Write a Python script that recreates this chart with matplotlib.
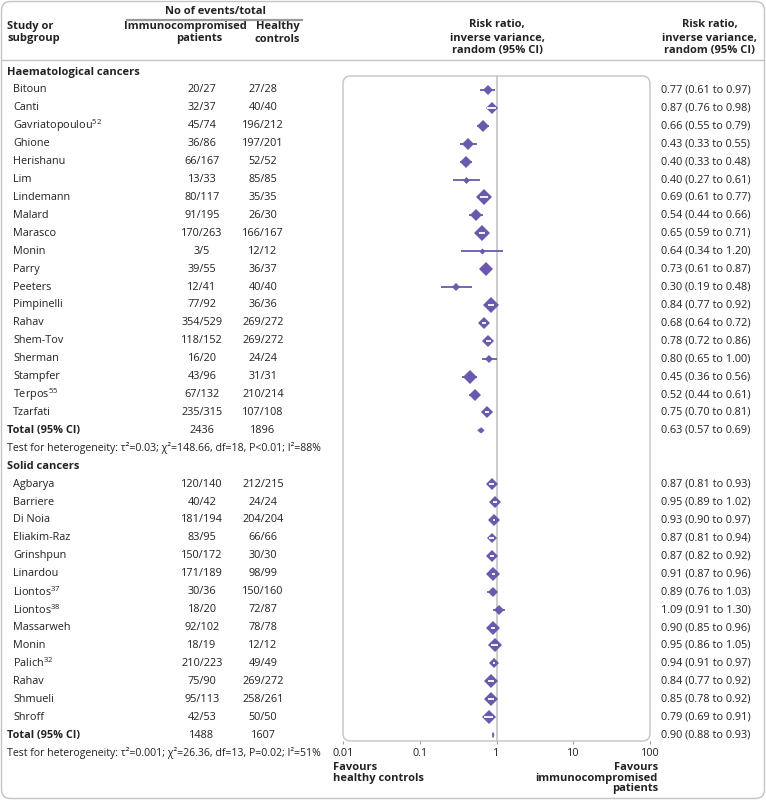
import numpy as np
import matplotlib.pyplot as plt
import matplotlib.transforms as mtransforms
from matplotlib.patches import FancyBboxPatch, Polygon
from matplotlib.lines import Line2D

plt.rcParams['font.family'] = ['Open Sans', 'DejaVu Sans']
plt.rcParams['mathtext.fontset'] = 'custom'
plt.rcParams['mathtext.rm'] = 'Open Sans'
plt.rcParams['mathtext.it'] = 'Open Sans'

# haematological cancers
haem_names = ["Bitoun", "Canti", "Gavriatopoulou$^{52}$", "Ghione", "Herishanu", "Lim",
              "Lindemann", "Malard", "Marasco", "Monin", "Parry", "Peeters", "Pimpinelli",
              "Rahav", "Shem-Tov", "Sherman", "Stampfer", "Terpos$^{55}$", "Tzarfati"]
haem_ic = ["20/27", "32/37", "45/74", "36/86", "66/167", "13/33", "80/117", "91/195",
           "170/263", "3/5", "39/55", "12/41", "77/92", "354/529", "118/152", "16/20",
           "43/96", "67/132", "235/315"]
haem_hc = ["27/28", "40/40", "196/212", "197/201", "52/52", "85/85", "35/35", "26/30",
           "166/167", "12/12", "36/37", "40/40", "36/36", "269/272", "269/272", "24/24",
           "31/31", "210/214", "107/108"]
haem_rr = [0.77, 0.87, 0.66, 0.43, 0.40, 0.40, 0.69, 0.54, 0.65, 0.64, 0.73, 0.30, 0.84,
           0.68, 0.78, 0.80, 0.45, 0.52, 0.75]
haem_lo = [0.61, 0.76, 0.55, 0.33, 0.33, 0.27, 0.61, 0.44, 0.59, 0.34, 0.61, 0.19, 0.77,
           0.64, 0.72, 0.65, 0.36, 0.44, 0.70]
haem_hi = [0.97, 0.98, 0.79, 0.55, 0.48, 0.61, 0.77, 0.66, 0.71, 1.20, 0.87, 0.48, 0.92,
           0.72, 0.86, 1.00, 0.56, 0.61, 0.81]
haem_w = [4.3, 5.1, 6.0, 6.0, 6.0, 1.7, 8.0, 6.0, 8.0, 1.3, 6.9, 2.3, 8.0,
          5.1, 5.1, 2.3, 6.9, 6.0, 5.1]
haem_total = ("2436", "1896", 0.63, 0.57, 0.69)
haem_het = "Test for heterogeneity: τ²=0.03; χ²=148.66, df=18, P<0.01; I²=88%"

# solid cancers
solid_names = ["Agbarya", "Barriere", "Di Noia", "Eliakim-Raz", "Grinshpun", "Linardou",
               "Liontos$^{37}$", "Liontos$^{38}$", "Massarweh", "Monin", "Palich$^{32}$",
               "Rahav", "Shmueli", "Shroff"]
solid_ic = ["120/140", "40/42", "181/194", "83/95", "150/172", "171/189", "30/36", "18/20",
            "92/102", "18/19", "210/223", "75/90", "95/113", "42/53"]
solid_hc = ["212/215", "24/24", "204/204", "66/66", "30/30", "98/99", "150/160", "72/87",
            "78/78", "12/12", "49/49", "269/272", "258/261", "50/50"]
solid_rr = [0.87, 0.95, 0.93, 0.87, 0.87, 0.91, 0.89, 1.09, 0.90, 0.95, 0.94, 0.84, 0.85, 0.79]
solid_lo = [0.81, 0.89, 0.90, 0.81, 0.82, 0.87, 0.76, 0.91, 0.85, 0.86, 0.91, 0.77, 0.78, 0.69]
solid_hi = [0.93, 1.02, 0.97, 0.94, 0.92, 0.96, 1.03, 1.30, 0.96, 1.05, 0.97, 0.92, 0.92, 0.91]
solid_w = [5.1, 6.0, 5.1, 2.9, 5.1, 6.9, 2.9, 4.3, 6.9, 6.9, 4.3, 6.9, 6.9, 6.9]
solid_total = ("1488", "1607", 0.90, 0.88, 0.93)
solid_het = "Test for heterogeneity: τ²=0.001; χ²=26.36, df=13, P=0.02; I²=51%"

groups = [("Haematological cancers", haem_names, haem_ic, haem_hc, haem_rr, haem_lo, haem_hi,
           haem_w, haem_total, haem_het),
          ("Solid cancers", solid_names, solid_ic, solid_hc, solid_rr, solid_lo, solid_hi,
           solid_w, solid_total, solid_het)]

tick_vals = [0.01, 0.1, 1, 10, 100]
tick_labels = ["0.01", "0.1", "1", "10", "100"]

PURPLE = "#6a59ac"
TXT = "#222222"
GREY = "#c4c4c4"
FS = 7.8
HFS = 8.0

W, H = 766, 800
fig = plt.figure(figsize=(W / 100, H / 100), dpi=100)

# row layout in pixels
y0, step = 72, 17.92
p_left, p_right, p_top, p_bot = 343, 650, 76, 741
ax = fig.add_axes([p_left / W, 1 - p_bot / H, (p_right - p_left) / W, (p_bot - p_top) / H])
ax.set_xscale("log")
ax.set_xlim(0.01, 100)
ax.set_ylim((p_bot - y0) / step, (p_top - y0) / step)
for s in ax.spines.values():
    s.set_visible(False)
ax.set_yticks([])
ax.set_xticks(tick_vals)
ax.set_xticklabels(tick_labels)
ax.minorticks_off()
ax.tick_params(axis="x", length=2, color="#999999", pad=3, labelsize=FS, labelcolor=TXT)
ax.patch.set_visible(False)

panel = FancyBboxPatch((0, 0), 1, 1, boxstyle="round,pad=0,rounding_size=0.025",
                       mutation_aspect=(p_right - p_left) / (p_bot - p_top),
                       transform=ax.transAxes, fc="none", ec=GREY, lw=1, clip_on=False)
ax.add_patch(panel)
ax.axvline(1, color=GREY, lw=1.2, zorder=1)

row_tr = mtransforms.blended_transform_factory(fig.transFigure, ax.transData)


def rtext(xp, row, s, **kw):
    kw.setdefault("fontsize", FS)
    kw.setdefault("color", TXT)
    fig.text(xp / W, row, s, transform=row_tr, va="center", **kw)


def htext(xp, yp, s, **kw):
    kw.setdefault("fontsize", HFS)
    kw.setdefault("color", TXT)
    fig.text(xp / W, 1 - yp / H, s, va="center", **kw)


dpx = 100 / 72.0
inv = ax.transData.inverted()
row = 0
for title, names, ic, hc, rr, lo, hi, w, total, het in groups:
    rtext(7, row, title, fontweight="bold", fontsize=HFS)
    row += 1
    for i in range(len(names)):
        rtext(13, row, names[i])
        rtext(202, row, ic[i], ha="center")
        rtext(263, row, hc[i], ha="center")
        rtext(661, row, "%.2f (%.2f to %.2f)" % (rr[i], lo[i], hi[i]))
        ms = 2.7 * np.sqrt(w[i])
        ax.plot([lo[i], hi[i]], [row, row], color=PURPLE, lw=1.3, zorder=2,
                solid_capstyle="butt")
        ax.plot(rr[i], row, marker="D", ms=ms, color=PURPLE, mec=PURPLE, mew=0, zorder=3)
        # white CI line when the interval sits well inside the diamond
        xl = ax.transData.transform((lo[i], row))[0]
        xr = ax.transData.transform((hi[i], row))[0]
        cx = ax.transData.transform((rr[i], row))[0]
        hw = np.sqrt(2) / 2 * ms * dpx
        if (xr - xl) <= 0.8 * 2 * hw:
            a = max(xl, cx - hw * 0.8)
            b = min(xr, cx + hw * 0.8)
            xa = inv.transform((a, 0))[0]
            xb = inv.transform((b, 0))[0]
            ax.plot([xa, xb], [row, row], color="white", lw=1.3, zorder=4,
                    solid_capstyle="butt")
        row += 1
    tic, thc, trr, tlo, thi = total
    rtext(7, row, "Total (95% CI)", fontweight="bold")
    rtext(202, row, tic, ha="center")
    rtext(263, row, thc, ha="center")
    rtext(661, row, "%.2f (%.2f to %.2f)" % (trr, tlo, thi))
    dh = 0.15
    ax.add_patch(Polygon([[tlo, row], [trr, row - dh], [thi, row], [trr, row + dh]],
                         closed=True, fc=PURPLE, ec=PURPLE, lw=0.5, zorder=3))
    row += 1
    rtext(7, row, het, fontsize=7.6)
    row += 1

# header
htext(215, 12, "No of events/total", ha="center", fontweight="bold")
fig.add_artist(Line2D([127 / W, 302 / W], [1 - 19.5 / H] * 2, color="#9a9a9a", lw=1.6))
htext(7, 26, "Study or", fontweight="bold")
htext(7, 39, "subgroup", fontweight="bold")
htext(185, 26, "Immunocompromised", ha="center", fontweight="bold")
htext(199, 39, "patients", ha="center", fontweight="bold")
htext(278, 26, "Healthy", ha="center", fontweight="bold")
htext(277, 39, "controls", ha="center", fontweight="bold")
for xc in (497, 710):
    htext(xc, 25, "Risk ratio,", ha="center", fontweight="bold")
    htext(xc, 38, "inverse variance,", ha="center", fontweight="bold")
    htext(xc, 51, "random (95% CI)", ha="center", fontweight="bold")
fig.add_artist(Line2D([2 / W, 764 / W], [1 - 60 / H] * 2, color=GREY, lw=1))

# favours labels
htext(333, 767, "Favours", fontweight="bold")
htext(333, 778, "healthy controls", fontweight="bold")
htext(658, 767, "Favours", ha="right", fontweight="bold")
htext(658, 778, "immunocompromised", ha="right", fontweight="bold")
htext(658, 789, "patients", ha="right", fontweight="bold")

# outer frame
frame = FancyBboxPatch((1.5 / W, 1.5 / H), (W - 3) / W, (H - 3) / H,
                       boxstyle="round,pad=0,rounding_size=0.012",
                       mutation_aspect=W / H, transform=fig.transFigure,
                       fc="none", ec=GREY, lw=1)
fig.add_artist(frame)

fig.savefig("out.png", dpi=100)
